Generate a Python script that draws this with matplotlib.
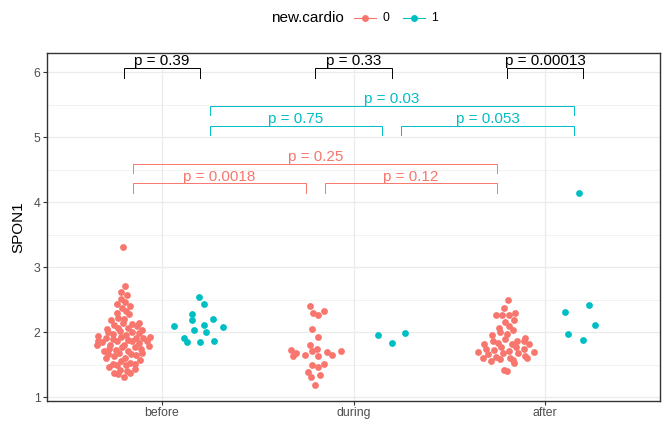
import numpy as np
import matplotlib
matplotlib.use("Agg")
import matplotlib.pyplot as plt
from matplotlib.lines import Line2D

plt.rcParams['font.family'] = ['Liberation Sans', 'DejaVu Sans']

# ---------------- data ----------------
times = ["before", "during", "after"]
cardio_levels = ["0", "1"]
cardio_colors = {"0": "#F8766D", "1": "#00BFC4"}

spon1_before_0 = [
    3.32,
    2.72, 2.62, 2.58, 2.51, 2.47, 2.44, 2.41, 2.37, 2.33, 2.30, 2.28,
    2.22, 2.21, 2.19,
    2.15, 2.14, 2.13, 2.12, 2.10,
    2.07, 2.06, 2.05, 2.04, 2.02,
    2.01, 2.00, 1.99, 1.98, 1.96,
    1.94, 1.93, 1.93, 1.92, 1.92, 1.91, 1.90,
    1.88, 1.87, 1.87, 1.86, 1.86, 1.85, 1.84,
    1.81, 1.80, 1.80, 1.79, 1.78, 1.77,
    1.75, 1.74, 1.73, 1.72, 1.71,
    1.68, 1.68, 1.67, 1.66, 1.65, 1.64,
    1.61, 1.60, 1.58, 1.56,
    1.53, 1.52, 1.51, 1.50, 1.50,
    1.46, 1.43, 1.42, 1.41,
    1.38, 1.37, 1.36,
    1.31,
]
spon1_during_0 = [
    2.40, 2.33, 2.29, 2.27, 2.05, 1.93, 1.80, 1.74, 1.73, 1.71, 1.71, 1.69,
    1.68, 1.65, 1.65, 1.64, 1.64, 1.51, 1.50, 1.47, 1.39, 1.34, 1.32, 1.19,
]
spon1_after_0 = [
    2.50, 2.37, 2.29, 2.27, 2.27, 2.26, 2.19, 2.16, 2.10, 2.06, 2.03, 2.01,
    1.97, 1.96, 1.91, 1.90, 1.87, 1.86, 1.86, 1.83, 1.82, 1.82, 1.82, 1.78,
    1.77, 1.75, 1.74, 1.73, 1.72, 1.70, 1.70, 1.68, 1.68, 1.67, 1.64, 1.62,
    1.60, 1.60, 1.60, 1.59, 1.58, 1.56, 1.53, 1.42, 1.41,
]
spon1_before_1 = [2.54, 2.43, 2.28, 2.21, 2.19, 2.12, 2.09, 2.08, 2.03, 2.01,
                  1.92, 1.87, 1.85, 1.85]
spon1_during_1 = [1.99, 1.96, 1.83]
spon1_after_1 = [4.15, 2.42, 2.31, 2.11, 1.97, 1.88]

groups = {
    ("before", "0"): spon1_before_0,
    ("during", "0"): spon1_during_0,
    ("after", "0"): spon1_after_0,
    ("before", "1"): spon1_before_1,
    ("during", "1"): spon1_during_1,
    ("after", "1"): spon1_after_1,
}

# pairwise comparisons within each cardio level (across time)
within_comparisons = [
    ("0", "before", "during", "p = 0.0018"),
    ("0", "during", "after", "p = 0.12"),
    ("0", "before", "after", "p = 0.25"),
    ("1", "before", "during", "p = 0.75"),
    ("1", "during", "after", "p = 0.053"),
    ("1", "before", "after", "p = 0.03"),
]
# comparisons between cardio levels at each time
between_labels = ["p = 0.39", "p = 0.33", "p = 0.00013"]


# ---------------- quasirandom layout ----------------
def van_der_corput(n, base=2):
    out = []
    for i in range(1, n + 1):
        v, denom, k = 0.0, 1.0, i
        while k > 0:
            denom *= base
            k, rem = divmod(k, base)
            v += rem / denom
        out.append(v)
    return np.array(out)


def bw_nrd0(x):
    x = np.asarray(x, float)
    sd = np.std(x, ddof=1)
    q75, q25 = np.percentile(x, [75, 25])
    lo = min(sd, (q75 - q25) / 1.34)
    if lo <= 0:
        lo = sd if sd > 0 else 1.0
    return 0.9 * lo * len(x) ** -0.2


def quasirandom_offsets(y, width, adjust=0.5):
    y = np.asarray(y, float)
    n = len(y)
    if n < 2:
        return np.zeros(n)
    bw = adjust * bw_nrd0(y)
    grid = np.linspace(y.min() - 3 * bw, y.max() + 3 * bw, 512)
    dens_grid = np.exp(-0.5 * ((grid[:, None] - y[None, :]) / bw) ** 2).sum(1)
    dens_pts = np.exp(-0.5 * ((y[:, None] - y[None, :]) / bw) ** 2).sum(1)
    rel = dens_pts / dens_grid.max()
    order = np.argsort(y, kind="stable")
    ranks = np.empty(n, int)
    ranks[order] = np.arange(n)
    vdc = van_der_corput(n)[ranks]
    return (vdc - 0.5) * 2 * rel * width


# ---------------- figure ----------------
fig = plt.figure(figsize=(6.64, 4.23), dpi=100)
ax = fig.add_axes([47 / 664, 22.3 / 423, 613 / 664, 347.7 / 423])

xpos = {t: i + 1 for i, t in enumerate(times)}
dodge = {"0": -0.2, "1": 0.2}

for (t, lvl), vals in groups.items():
    off = quasirandom_offsets(vals, width=0.16)
    xs = xpos[t] + dodge[lvl] + off
    ax.scatter(xs, vals, s=24, color=cardio_colors[lvl], linewidths=0, zorder=3)

# brackets
tip = 0.14
shorten = 0.05
lw_br = 0.7


def bracket(x0, x1, y, label, color):
    ax.plot([x0, x0, x1, x1], [y - tip, y, y, y - tip], color=color,
            lw=lw_br, solid_joinstyle="miter", zorder=4)
    ax.text((x0 + x1) / 2, y + 0.045, label, color=color, fontsize=11,
            ha="center", va="baseline", zorder=5)


level_y = {
    ("0", "before", "during"): 4.29, ("0", "during", "after"): 4.29,
    ("0", "before", "after"): 4.59,
    ("1", "before", "during"): 5.18, ("1", "during", "after"): 5.18,
    ("1", "before", "after"): 5.48,
}
for lvl, a, b, lab in within_comparisons:
    x0 = xpos[a] + dodge[lvl] + shorten
    x1 = xpos[b] + dodge[lvl] - shorten
    bracket(x0, x1, level_y[(lvl, a, b)], lab, cardio_colors[lvl])

for t, lab in zip(times, between_labels):
    bracket(xpos[t] + dodge["0"], xpos[t] + dodge["1"], 6.06, lab, "black")

# axes styling (bw theme)
ax.set_xlim(0.4, 3.6)
ax.set_ylim(0.948, 6.297)
ax.set_xticks([1, 2, 3])
ax.set_xticklabels(times)
ax.set_yticks([1, 2, 3, 4, 5, 6])
ax.set_yticks([1.5, 2.5, 3.5, 4.5, 5.5], minor=True)
ax.grid(True, which="major", color="#EBEBEB", lw=0.9)
ax.grid(True, which="minor", axis="y", color="#EBEBEB", lw=0.45)
ax.set_axisbelow(True)
for sp in ax.spines.values():
    sp.set_color("#333333")
    sp.set_linewidth(1.0)
ax.tick_params(which="major", length=2.75, width=0.8, color="#333333",
               labelsize=8.8, labelcolor="#4D4D4D", pad=2)
ax.tick_params(which="minor", length=0)

fig.text(18 / 664, 1 - 227 / 423, "SPON1", rotation=90, fontsize=11,
         ha="center", va="center")

# legend on top
ly = 1 - 18 / 423
fig.text(307 / 664, ly, "new.cardio", fontsize=11, ha="center", va="center")
for lvl, cx, tx in [("0", 365, 386), ("1", 414, 434)]:
    fig.add_artist(Line2D([(cx - 11) / 664, (cx + 11) / 664], [ly, ly],
                          transform=fig.transFigure, color=cardio_colors[lvl],
                          lw=0.8))
    fig.add_artist(Line2D([cx / 664], [ly], transform=fig.transFigure,
                          marker="o", markersize=5, markeredgewidth=0,
                          color=cardio_colors[lvl], linestyle="none"))
    fig.text(tx / 664, ly, lvl, fontsize=8.8, ha="center", va="center")

fig.savefig("out.png", dpi=100)
